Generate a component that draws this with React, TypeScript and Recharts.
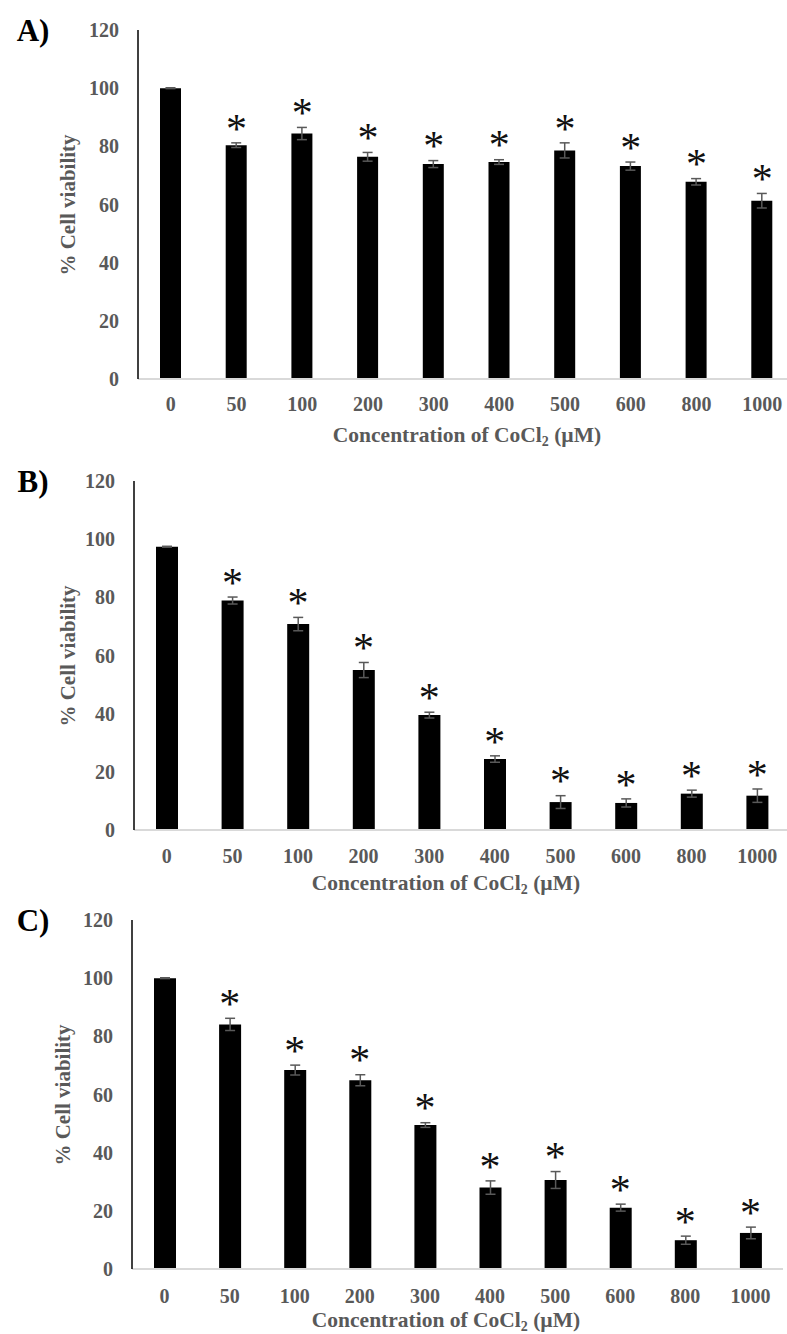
import React from 'react';
import { ComposedChart, Bar, ErrorBar, Scatter, XAxis, YAxis } from 'recharts';

const concentrations = ['0', '50', '100', '200', '300', '400', '500', '600', '800', '1000'];
const significant = [false, true, true, true, true, true, true, true, true, true];

const viabilityA = [100, 80.4, 84.4, 76.4, 73.9, 74.6, 78.6, 73.2, 67.8, 61.3];
const errorA = [0.15, 0.8, 2.1, 1.5, 1.2, 0.8, 2.6, 1.4, 1.1, 2.5];

const viabilityB = [97.4, 78.9, 70.8, 55.0, 39.5, 24.4, 9.6, 9.3, 12.5, 11.8];
const errorB = [0.15, 1.2, 2.3, 2.6, 1.0, 1.1, 2.2, 1.4, 1.2, 2.3];

const viabilityC = [100, 84.1, 68.4, 64.9, 49.5, 28.0, 30.6, 21.1, 9.9, 12.4];
const errorC = [0.15, 2.1, 1.7, 1.9, 0.8, 2.3, 2.9, 1.2, 1.4, 2.0];

const yTicks = [0, 20, 40, 60, 80, 100, 120];

const FONT = '"Liberation Serif", "Times New Roman", serif';
const GREY = '#595959';
const STAR_SIZE = 42;

const buildRows = (values: number[], errors: number[]) =>
  concentrations.map((conc, i) => ({
    conc,
    value: values[i],
    err: errors[i],
    top: significant[i] ? values[i] + errors[i] : null,
  }));

// asterisk drawn a fixed gap above the error bar
const Star = (props: any) => {
  const { cx, cy, payload } = props;
  if (!payload || payload.top == null || cy == null || Number.isNaN(cy)) return <g />;
  return (
    <text x={cx} y={cy - 20 + STAR_SIZE * 0.47} textAnchor="middle" fontFamily={FONT} fontSize={STAR_SIZE} fill="#111">
      *
    </text>
  );
};

interface PanelProps {
  letter: string;
  rows: ReturnType<typeof buildRows>;
  plotTop: number;
  axisX: number;
  plotRight: number;
  barSize: number;
  tickMargin: number;
  titleX: number;
  titleGap: number;
  ylabelX: number;
}

const Panel = ({ letter, rows, plotTop, axisX, plotRight, barSize, tickMargin, titleX, titleGap, ylabelX }: PanelProps) => {
  const plotH = 349;
  const chartTop = plotTop - 30;
  const axisY = plotTop + plotH;
  return (
    <>
      <div style={{ position: 'absolute', left: 0, top: chartTop }}>
        <ComposedChart
          width={800}
          height={30 + plotH + 70}
          data={rows}
          margin={{ top: 30, right: 800 - plotRight, left: 0, bottom: 0 }}
        >
          <XAxis
            dataKey="conc"
            height={70}
            tickLine={false}
            tickSize={6}
            tickMargin={tickMargin}
            axisLine={{ stroke: '#d9d9d9', strokeWidth: 2 }}
            tick={{ fill: GREY, fontSize: 20, fontWeight: 700, fontFamily: FONT }}
            interval={0}
          />
          <YAxis
            width={axisX}
            domain={[0, 120]}
            ticks={yTicks}
            tickLine={false}
            tickSize={6}
            tickMargin={13}
            axisLine={{ stroke: '#000', strokeWidth: 1.5 }}
            tick={{ fill: GREY, fontSize: 20, fontWeight: 700, fontFamily: FONT }}
          />
          <Bar dataKey="value" fill="#000" barSize={barSize} isAnimationActive={false}>
            <ErrorBar dataKey="err" width={5} stroke={GREY} strokeWidth={1.5} direction="y" />
          </Bar>
          <Scatter dataKey="top" shape={Star} isAnimationActive={false} />
        </ComposedChart>
      </div>
      <div
        style={{
          position: 'absolute', left: 33, top: plotTop, transform: 'translate(-50%, -50%)',
          fontFamily: FONT, fontWeight: 700, fontSize: 31, lineHeight: 1, color: '#000',
        }}
      >
        {letter})
      </div>
      <div
        style={{
          position: 'absolute', left: ylabelX, top: plotTop + plotH / 2,
          transform: 'translate(-50%, -50%) rotate(-90deg)', whiteSpace: 'nowrap',
          fontFamily: FONT, fontWeight: 700, fontSize: 21, lineHeight: 1, color: GREY,
        }}
      >
        % Cell viability
      </div>
      <div
        style={{
          position: 'absolute', left: titleX, top: axisY + titleGap, transform: 'translate(-50%, -50%)',
          whiteSpace: 'nowrap', fontFamily: FONT, fontWeight: 700, fontSize: 21.5, lineHeight: 1, color: GREY,
        }}
      >
        Concentration of CoCl<span style={{ fontSize: '0.65em', verticalAlign: '-0.3em' }}>2</span> (µM)
      </div>
    </>
  );
};

export default function App() {
  return (
    <div style={{ position: 'absolute', left: 0, top: 0, width: 787, height: 1334, overflow: 'hidden', background: '#fff' }}>
      <Panel letter="A" rows={buildRows(viabilityA, errorA)} plotTop={30} axisX={138} plotRight={795}
        barSize={21} tickMargin={12} titleX={467} titleGap={58} ylabelX={68} />
      <Panel letter="B" rows={buildRows(viabilityB, errorB)} plotTop={481} axisX={134} plotRight={790}
        barSize={22} tickMargin={13} titleX={446} titleGap={55} ylabelX={68} />
      <Panel letter="C" rows={buildRows(viabilityC, errorC)} plotTop={920} axisX={132} plotRight={783}
        barSize={22} tickMargin={14} titleX={446} titleGap={53} ylabelX={63} />
    </div>
  );
}
